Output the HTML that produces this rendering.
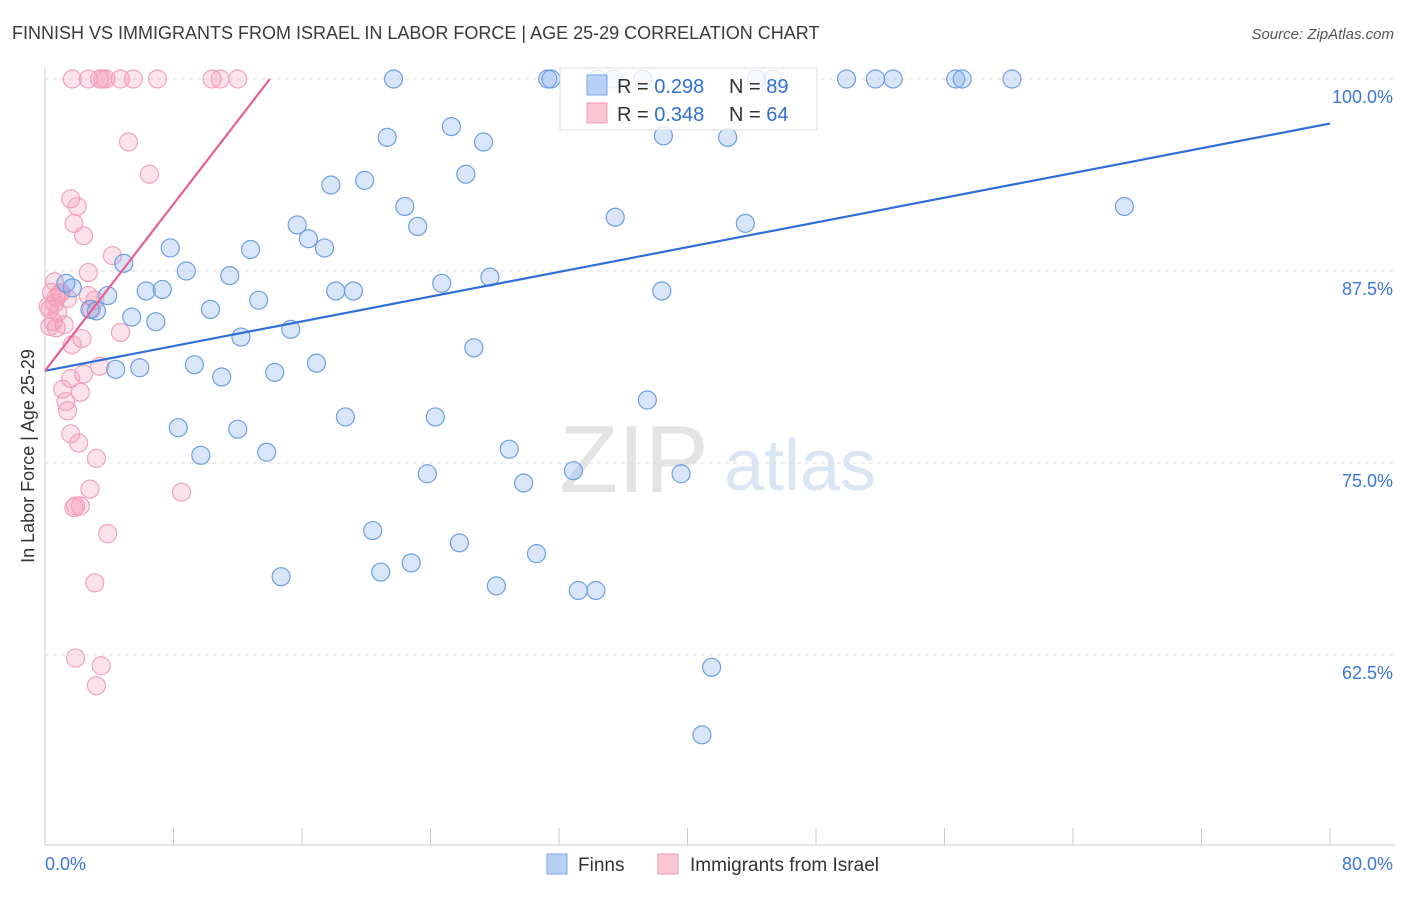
<!DOCTYPE html>
<html><head><meta charset="utf-8"><style>
body{margin:0;background:#fff;font-family:"Liberation Sans",sans-serif;}
svg text{font-family:"Liberation Sans",sans-serif;}
</style></head><body>
<svg id="chart" width="1406" height="892">
<text x="12" y="39" font-size="18" fill="#3a3a3a">FINNISH VS IMMIGRANTS FROM ISRAEL IN LABOR FORCE | AGE 25-29 CORRELATION CHART</text>
<text x="1394" y="39" font-size="15" fill="#555" text-anchor="end" font-style="italic">Source: ZipAtlas.com</text>
<text x="634" y="492" font-size="96" fill="#e4e4e4" font-family="Liberation Serif" text-anchor="middle">ZIP</text>
<text x="800" y="490" font-size="72" fill="#dbe6f5" text-anchor="middle">atlas</text>
<g id="grid"></g>
<g id="axes"></g>
<g id="pts"></g>
<g id="trend"></g>
<text transform="translate(34,456) rotate(-90)" font-size="18" fill="#333" text-anchor="middle">In Labor Force | Age 25-29</text>
<g>
<rect x="560" y="68" width="257" height="62" fill="rgba(255,255,255,0.8)" stroke="#ddd"/>
<rect x="587" y="75" width="20" height="20" fill="#b8d0f3" stroke="#7aa7e6"/>
<text x="617" y="93" font-size="20" fill="#333">R = <tspan fill="#2f6fd6">0.298</tspan></text>
<text x="729" y="93" font-size="20" fill="#333">N = <tspan fill="#2f6fd6">89</tspan></text>
<rect x="587" y="103" width="20" height="20" fill="#fac6d5" stroke="#f09ab8"/>
<text x="617" y="121" font-size="20" fill="#333">R = <tspan fill="#2f6fd6">0.348</tspan></text>
<text x="729" y="121" font-size="20" fill="#333">N = <tspan fill="#2f6fd6">64</tspan></text>
</g>
<g>
<rect x="547" y="854" width="20" height="20" fill="#b8d0f3" stroke="#7aa7e6"/>
<text x="578" y="871" font-size="19" fill="#333">Finns</text>
<rect x="658" y="854" width="20" height="20" fill="#fac6d5" stroke="#f09ab8"/>
<text x="690" y="871" font-size="19" fill="#333">Immigrants from Israel</text>
</g>
</svg>
<script>
const xTicks=[0,8,16,24,32,40,48,56,64,72,80];
const yTicks=[100,87.5,75,62.5];
const finnsX=[21.7,31.3,31.5,34.4,35.4,37.2,44.3,45.3,49.9,51.7,52.8,56.7,57.1,60.2,21.3,25.3,27.3,38.5,42.5,26.2,19.9,17.8,22.4,23.2,15.7,16.4,17.4,35.5,43.6,67.2,4.9,7.8,12.8,8.8,11.5,1.3,1.7,3.9,6.3,7.3,13.3,10.3,2.8,3.2,5.4,6.9,18.1,19.2,24.7,27.7,38.4,12.2,15.3,26.7,4.4,5.9,9.3,11.0,14.3,16.9,8.3,12.0,9.7,13.8,18.7,24.3,37.5,28.9,29.8,23.8,32.9,39.6,20.4,25.8,30.6,14.7,20.9,22.8,28.1,33.2,34.3,41.5,40.9];
const finnsY=[100,100,100,100,100,100,100,100,100,100,100,100,100,100,96.2,96.9,95.9,96.3,96.2,93.8,93.4,93.1,91.7,90.4,90.5,89.6,89.0,91.0,90.6,91.7,88.0,89.0,88.9,87.5,87.2,86.7,86.4,85.9,86.2,86.3,85.6,85.0,85.0,84.9,84.5,84.2,86.2,86.2,86.7,87.1,86.2,83.2,83.7,82.5,81.1,81.2,81.4,80.6,80.9,81.5,77.3,77.2,75.5,75.7,78.0,78.0,79.1,75.9,73.7,74.3,74.5,74.3,70.6,69.8,69.1,67.6,67.9,68.5,67.0,66.7,66.7,61.7,57.3];
const israelX=[1.7,2.7,3.4,3.6,3.8,4.7,5.5,7.0,10.4,10.9,12.0,5.2,6.5,1.6,2.0,1.8,2.4,4.2,2.7,0.4,0.7,1.0,0.6,0.3,0.8,1.4,0.5,0.7,1.2,2.7,3.1,2.9,4.7,2.3,1.7,3.4,2.4,1.6,1.1,2.2,1.3,1.4,1.6,2.1,3.2,2.8,8.5,1.9,1.8,2.2,3.9,3.1,1.9,3.5,3.2,0.2,0.3,0.9,0.6];
const israelY=[100,100,100,100,100,100,100,100,100,100,100,95.9,93.8,92.2,91.7,90.6,89.8,88.5,87.4,86.1,85.8,86.1,85.4,85.0,84.8,85.7,84.2,83.8,84.0,85.9,85.6,85.0,83.5,83.1,82.7,81.3,80.8,80.5,79.8,79.6,79.0,78.4,76.9,76.3,75.3,73.3,73.1,72.2,72.1,72.2,70.4,67.2,62.3,61.8,60.5,85.2,83.9,86.0,86.8];
const finnsTrend=[0,81.0,80,97.1];
const israelTrend=[0,81.0,14.0,100];
const X=v=>45+v/80*1285, Y=v=>79+(100-v)*15.36;
const NS='http://www.w3.org/2000/svg';
function mk(p,t,a){const e=document.createElementNS(NS,t);for(const k in a)e.setAttribute(k,a[k]);p.appendChild(e);return e;}
const g=document.getElementById('grid'),ax=document.getElementById('axes'),pts=document.getElementById('pts'),tr=document.getElementById('trend');
yTicks.forEach(v=>{
const l=mk(g,'line',{x1:45,x2:1394,y1:Y(v),y2:Y(v),stroke:'#ddd','stroke-dasharray':'4 4'});


const t=mk(ax,'text',{x:1393,y:Y(v)+24,'font-size':18,fill:'#3b76d8','text-anchor':'end'});t.textContent=v.toFixed(1)+'%';


});
const yl=mk(ax,'line',{x1:45,x2:45,y1:68,y2:845,stroke:'#ccc'});


const xl=mk(ax,'line',{x1:45,x2:1394,y1:845,y2:845,stroke:'#ccc'});


xTicks.forEach(v=>{const l=mk(ax,'line',{x1:X(v),x2:X(v),y1:828,y2:845,stroke:'#ccc'});

});
[[0,'start',45],[80,'end',1393]].forEach(([v,a,x])=>{const t=mk(ax,'text',{x:x,y:870,'font-size':18,fill:'#3b76d8','text-anchor':a});t.textContent=v.toFixed(1)+'%';

});
israelX.forEach((v,i)=>{const c=mk(pts,'circle',{cx:X(v),cy:Y(israelY[i]),r:9,fill:'rgba(245,150,180,0.28)',stroke:'#f2a3bd','stroke-width':1.2});

});
finnsX.forEach((v,i)=>{const c=mk(pts,'circle',{cx:X(v),cy:Y(finnsY[i]),r:9,fill:'rgba(130,170,235,0.3)',stroke:'#6d9fe3','stroke-width':1.2});

});
const fl=mk(tr,'line',{x1:X(finnsTrend[0]),y1:Y(finnsTrend[1]),x2:X(finnsTrend[2]),y2:Y(finnsTrend[3]),stroke:'#2f6fd6','stroke-width':2.2});


const il=mk(tr,'line',{x1:X(israelTrend[0]),y1:Y(israelTrend[1]),x2:X(israelTrend[2]),y2:Y(israelTrend[3]),stroke:'#e8608a','stroke-width':2.2});


</script>
</body></html>
